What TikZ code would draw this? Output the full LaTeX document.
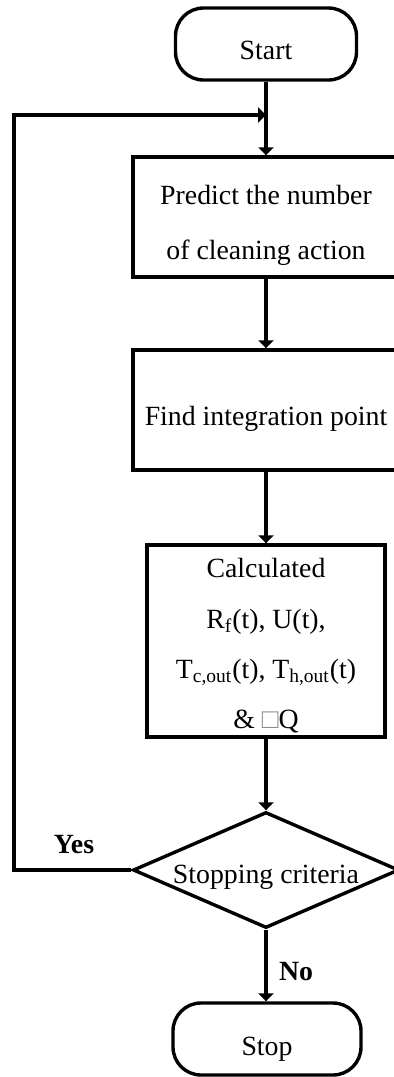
\documentclass[tikz,border=0pt]{standalone}
\usepackage{fontspec}
\setmainfont{Liberation Serif}
\usetikzlibrary{shapes.geometric,arrows.meta}
\begin{document}
\begin{tikzpicture}[x=0.5pt,y=-0.5pt,
  every node/.style={font=\fontsize{13.9pt}{16pt}\selectfont},
  line/.style={line width=1.7pt},
  arr/.style={line, -{Triangle[width=7.5pt,length=4pt]}},
  term/.style={draw, line width=1.7pt, rounded corners=14pt, inner sep=0pt},
  proc/.style={draw, line width=1.7pt, inner sep=0pt},
  dec/.style={draw, diamond, line width=1.7pt, inner sep=0pt},
  txt/.style={anchor=base, inner sep=0pt},
  lbl/.style={anchor=base, inner sep=0pt, font=\fontsize{13.9pt}{16pt}\selectfont\bfseries}]
\useasboundingbox (0,0) rectangle (393,1077);
% shapes
\node[term, minimum width=90.5pt, minimum height=36pt] (start) at (266,44) {};
\node[proc, minimum width=133pt, minimum height=60pt] (b1) at (266,217) {};
\node[proc, minimum width=133pt, minimum height=60pt] (b2) at (266,410) {};
\node[proc, minimum width=119pt, minimum height=96pt] (b3) at (266,641) {};
\node[dec, minimum width=133pt, minimum height=58pt] (d) at (266,870) {};
\node[term, minimum width=94pt, minimum height=36pt] (stop) at (267,1039) {};
% texts
\node[txt] (tstart) at (266,59) {Start};
\node[txt] (t1a) at (266,204) {Predict the number};
\node[txt] (t1b) at (266,259) {of cleaning action};
\node[txt] (t2) at (266,425) {Find integration point};
\node[txt] (t3a) at (266,577) {Calculated};
\node[txt] (t3b) at (266,628) {R\textsubscript{f}(t), U(t),};
\node[txt] (t3c) at (266,678) {T\textsubscript{c,out}(t), T\textsubscript{h,out}(t)};
\node[txt] (t3d) at (266,728) {\& {\color{black!45}□}Q};
\node[txt] (td) at (266,883) {Stopping criteria};
\node[txt] (tstop) at (267,1055) {Stop};
\node[lbl] (yes) at (74,853) {Yes};
\node[lbl] (no) at (296,980) {No};
% connectors
\coordinate (j) at (266,115);
\coordinate (lc) at (14,115);
\draw[arr] (start.south) -- (b1.north);
\draw[arr] (b1.south) -- (b2.north);
\draw[arr] (b2.south) -- (b3.north);
\draw[arr] (b3.south) -- (d.north);
\draw[arr] (d.south) -- (d.south |- stop.north);
\draw[arr] (d.west) -| (lc) -- (j);
\end{tikzpicture}
\end{document}
